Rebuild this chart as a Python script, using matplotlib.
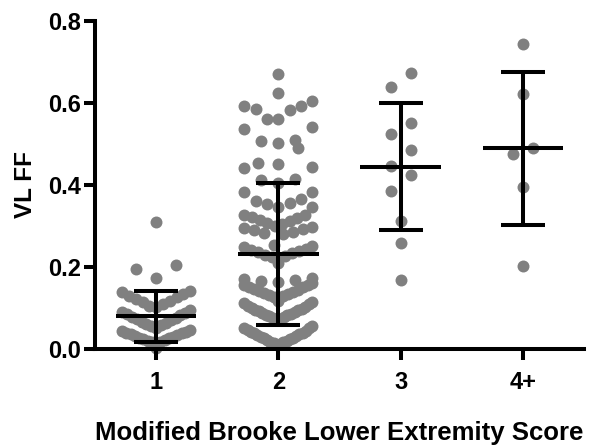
import numpy as np
import matplotlib
matplotlib.use('Agg')
import matplotlib.pyplot as plt
from matplotlib.ticker import FormatStrFormatter

plt.rcParams['font.family'] = ['Liberation Sans', 'DejaVu Sans']
plt.rcParams['font.weight'] = 'bold'

# Brooke score groups and VL fat fraction per subject
groups = ['1', '2', '3', '4+']
ff_1 = [0.002, 0.016, 0.018, 0.020, 0.022, 0.024, 0.026, 0.028, 0.030, 0.032,
        0.034, 0.036, 0.038, 0.040, 0.042, 0.044, 0.046,
        0.052, 0.055, 0.058, 0.061, 0.064, 0.067, 0.070, 0.073, 0.076, 0.079,
        0.082, 0.085, 0.088, 0.091, 0.094,
        0.102, 0.106, 0.110, 0.114, 0.118, 0.122, 0.126, 0.130, 0.134, 0.138, 0.141,
        0.174, 0.194, 0.205, 0.309]
ff_2 = [0.010, 0.012, 0.014, 0.016, 0.018, 0.020, 0.022, 0.024, 0.026, 0.028, 0.030,
        0.032, 0.034, 0.036, 0.038, 0.040, 0.042, 0.044, 0.047, 0.050, 0.052, 0.055,
        0.072, 0.074, 0.076, 0.078, 0.080, 0.082, 0.084, 0.086, 0.088, 0.090, 0.092,
        0.094, 0.096, 0.098, 0.100, 0.103, 0.106, 0.109, 0.112, 0.115, 0.117,
        0.128, 0.130, 0.132, 0.135, 0.137, 0.140, 0.142, 0.145, 0.147, 0.150,
        0.152, 0.155, 0.157, 0.160, 0.163, 0.166, 0.169, 0.171, 0.173,
        0.209, 0.224, 0.227, 0.230, 0.233, 0.236, 0.239, 0.242, 0.245, 0.248, 0.251, 0.254,
        0.280, 0.283, 0.286, 0.289, 0.292, 0.295, 0.298, 0.301, 0.304, 0.307,
        0.311, 0.315, 0.319, 0.323,
        0.327, 0.328, 0.346, 0.347, 0.354, 0.355, 0.361, 0.366,
        0.383, 0.384, 0.405, 0.412, 0.415,
        0.441, 0.444, 0.451, 0.453,
        0.490, 0.502, 0.507, 0.510,
        0.536, 0.542, 0.561, 0.562,
        0.583, 0.585, 0.593, 0.593, 0.605, 0.624,
        0.671]
ff_3 = [0.672, 0.640, 0.552, 0.525, 0.486, 0.447, 0.424, 0.385, 0.313, 0.258, 0.168]
ff_4 = [0.743, 0.622, 0.491, 0.476, 0.396, 0.202]
ff_all = [ff_1, ff_2, ff_3, ff_4]

# mean and SD as drawn
means = [0.080, 0.232, 0.444, 0.489]
sds = [0.062, 0.174, 0.155, 0.187]


def scatter_rows(vals, ppx, row_h=0.045, step=20.0, half_w=34.0):
    # Prism-like dot plot: group sorted values into rows, spread each row
    # from the centre outwards (lowest in the middle), squeeze wide rows
    v = np.sort(np.asarray(vals))
    offs = np.zeros(len(v))
    i = 0
    while i < len(v):
        j = i
        while j < len(v) and v[j] - v[i] <= row_h:
            j += 1
        n = j - i
        sp = step if n < 2 else min(step, 2 * half_w / (n - 1))
        slots = []
        for k in range(n):
            if n % 2:
                slots.append(((k + 1) // 2) * (-1 if k % 2 else 1))
            else:
                slots.append((k // 2 + 0.5) * (-1 if k % 2 == 0 else 1))
        offs[i:j] = np.array(slots) * sp
        i = j
    return v, offs / ppx


fig = plt.figure(figsize=(6.01, 4.46), dpi=100)
ax = fig.add_axes([0.158, 0.2175, 0.814, 0.7355])
ax.set_xlim(0.5, 4.5)
ax.set_ylim(0, 0.8)

ppx = ax.bbox.width / 4.0

pos = np.arange(1, len(groups) + 1)
for i, vals in enumerate(ff_all):
    v, off = scatter_rows(vals, ppx)
    ax.scatter(pos[i] + off, v, s=74, c='#808080', linewidths=0,
               clip_on=False, zorder=1)

ax.errorbar(pos, means, yerr=sds, fmt='none', ecolor='black', elinewidth=2.9,
            capsize=15.8, capthick=2.9, zorder=4)
ax.hlines(means, pos - 0.33, pos + 0.33, colors='black', linewidth=2.9, zorder=4)

for s in ['top', 'right']:
    ax.spines[s].set_visible(False)
for s in ['left', 'bottom']:
    ax.spines[s].set_linewidth(2.9)

ax.set_xticks(pos)
ax.set_xticklabels(groups)
ax.set_yticks([0.0, 0.2, 0.4, 0.6, 0.8])
ax.yaxis.set_major_formatter(FormatStrFormatter('%.1f'))
ax.tick_params(axis='both', direction='out', length=8, width=2.9, labelsize=17)
ax.tick_params(axis='y', pad=2)
ax.tick_params(axis='x', pad=8)

ax.set_xlabel('Modified Brooke Lower Extremity Score', fontsize=18.5, fontweight='bold', labelpad=19)
ax.set_ylabel('VL FF', fontsize=17.5, fontweight='bold', labelpad=8)

fig.savefig('out.png', dpi=100)
